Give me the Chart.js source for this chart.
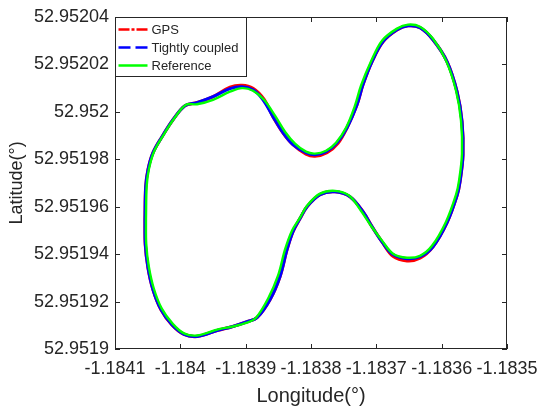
<!DOCTYPE html>
<html>
<head>
<meta charset="utf-8">
<script src="https://cdn.jsdelivr.net/npm/chart.js@4.4.1/dist/chart.umd.min.js"></script>
<style>
  html, body { margin: 0; padding: 0; background: #fff; }
</style>
</head>
<body>
<canvas id="myChart" width="550" height="412"></canvas>
<script>
// one lap of each track (deg)
let gpsLon = [-1.1840541, -1.1840530, -1.1840495, -1.1840418, -1.1840281, -1.1840112, -1.1839929, -1.1839745, -1.1839500, -1.1839240, -1.1839056, -1.1838888, -1.1838720, -1.1838582, -1.1838429, -1.1838276, -1.1838077, -1.1837939, -1.1837755, -1.1837587, -1.1837449, -1.1837296, -1.1837204, -1.1837066, -1.1836898, -1.1836684, -1.1836515, -1.1836332, -1.1836133, -1.1835918, -1.1835765, -1.1835689, -1.1835674, -1.1835719, -1.1835765, -1.1835918, -1.1836133, -1.1836332, -1.1836531, -1.1836745, -1.1836913, -1.1837066, -1.1837204, -1.1837403, -1.1837633, -1.1837862, -1.1838061, -1.1838168, -1.1838276, -1.1838367, -1.1838475, -1.1838628, -1.1838827, -1.1838980, -1.1839209, -1.1839424, -1.1839745, -1.1839944, -1.1840128, -1.1840296, -1.1840418, -1.1840495, -1.1840536, -1.1840541]
let gpsLat = [52.9519545, 52.9519684, 52.9519756, 52.9519828, 52.9519895, 52.9519967, 52.9520026, 52.9520039, 52.9520064, 52.9520104, 52.9520112, 52.9520099, 52.9520053, 52.9519980, 52.9519912, 52.9519862, 52.9519822, 52.9519813, 52.9519828, 52.9519868, 52.9519933, 52.9520030, 52.9520115, 52.9520212, 52.9520296, 52.9520346, 52.9520363, 52.9520355, 52.9520304, 52.9520212, 52.9520085, 52.9519959, 52.9519819, 52.9519706, 52.9519647, 52.9519533, 52.9519431, 52.9519383, 52.9519372, 52.9519391, 52.9519452, 52.9519516, 52.9519579, 52.9519642, 52.9519663, 52.9519651, 52.9519600, 52.9519550, 52.9519495, 52.9519419, 52.9519305, 52.9519208, 52.9519132, 52.9519115, 52.9519094, 52.9519079, 52.9519053, 52.9519062, 52.9519102, 52.9519166, 52.9519250, 52.9519343, 52.9519440, 52.9519545]

let tcLon = [-1.1840541, -1.1840530, -1.1840495, -1.1840418, -1.1840281, -1.1840112, -1.1839929, -1.1839745, -1.1839500, -1.1839240, -1.1839056, -1.1838888, -1.1838735, -1.1838582, -1.1838429, -1.1838276, -1.1838077, -1.1837939, -1.1837770, -1.1837602, -1.1837449, -1.1837296, -1.1837204, -1.1837066, -1.1836898, -1.1836684, -1.1836515, -1.1836332, -1.1836133, -1.1835918, -1.1835765, -1.1835689, -1.1835674, -1.1835719, -1.1835765, -1.1835918, -1.1836133, -1.1836332, -1.1836531, -1.1836745, -1.1836913, -1.1837066, -1.1837204, -1.1837403, -1.1837633, -1.1837862, -1.1838061, -1.1838168, -1.1838276, -1.1838367, -1.1838475, -1.1838628, -1.1838827, -1.1838980, -1.1839209, -1.1839424, -1.1839745, -1.1839944, -1.1840128, -1.1840296, -1.1840418, -1.1840495, -1.1840536, -1.1840541]
let tcLat = [52.9519545, 52.9519684, 52.9519756, 52.9519828, 52.9519895, 52.9519967, 52.9520026, 52.9520039, 52.9520064, 52.9520098, 52.9520106, 52.9520093, 52.9520051, 52.9519980, 52.9519912, 52.9519862, 52.9519828, 52.9519819, 52.9519832, 52.9519870, 52.9519933, 52.9520030, 52.9520115, 52.9520212, 52.9520296, 52.9520346, 52.9520363, 52.9520355, 52.9520304, 52.9520212, 52.9520085, 52.9519959, 52.9519819, 52.9519706, 52.9519647, 52.9519533, 52.9519431, 52.9519389, 52.9519381, 52.9519398, 52.9519452, 52.9519516, 52.9519579, 52.9519642, 52.9519663, 52.9519651, 52.9519600, 52.9519550, 52.9519495, 52.9519419, 52.9519305, 52.9519208, 52.9519132, 52.9519115, 52.9519094, 52.9519079, 52.9519053, 52.9519062, 52.9519102, 52.9519166, 52.9519250, 52.9519343, 52.9519440, 52.9519545]

let refLon = [-1.1840526, -1.1840515, -1.1840480, -1.1840403, -1.1840266, -1.1840097, -1.1839914, -1.1839745, -1.1839500, -1.1839240, -1.1839056, -1.1838888, -1.1838720, -1.1838551, -1.1838398, -1.1838245, -1.1838077, -1.1837939, -1.1837770, -1.1837617, -1.1837464, -1.1837327, -1.1837235, -1.1837082, -1.1836913, -1.1836684, -1.1836515, -1.1836332, -1.1836133, -1.1835933, -1.1835780, -1.1835704, -1.1835689, -1.1835734, -1.1835780, -1.1835933, -1.1836148, -1.1836332, -1.1836531, -1.1836745, -1.1836913, -1.1837082, -1.1837235, -1.1837418, -1.1837633, -1.1837862, -1.1838061, -1.1838168, -1.1838291, -1.1838398, -1.1838505, -1.1838658, -1.1838842, -1.1838980, -1.1839209, -1.1839424, -1.1839745, -1.1839944, -1.1840116, -1.1840284, -1.1840405, -1.1840482, -1.1840522, -1.1840526]
let refLat = [52.9519549, 52.9519688, 52.9519760, 52.9519832, 52.9519899, 52.9519971, 52.9520030, 52.9520032, 52.9520051, 52.9520085, 52.9520100, 52.9520089, 52.9520051, 52.9519984, 52.9519916, 52.9519866, 52.9519832, 52.9519824, 52.9519836, 52.9519870, 52.9519933, 52.9520026, 52.9520110, 52.9520212, 52.9520300, 52.9520351, 52.9520368, 52.9520359, 52.9520308, 52.9520216, 52.9520089, 52.9519963, 52.9519823, 52.9519710, 52.9519651, 52.9519537, 52.9519435, 52.9519393, 52.9519385, 52.9519402, 52.9519457, 52.9519520, 52.9519583, 52.9519647, 52.9519667, 52.9519655, 52.9519604, 52.9519554, 52.9519499, 52.9519419, 52.9519309, 52.9519212, 52.9519132, 52.9519111, 52.9519094, 52.9519083, 52.9519057, 52.9519066, 52.9519106, 52.9519170, 52.9519254, 52.9519347, 52.9519444, 52.9519549]

let lonTicks = [-1.1841, -1.184, -1.1839, -1.1838, -1.1837, -1.1836, -1.1835]
let latTicks = [52.9519, 52.95192, 52.95194, 52.95196, 52.95198, 52.952, 52.95202, 52.95204]

let seriesNames = ['GPS', 'Tightly coupled', 'Reference']
let seriesColors = ['#ff0000', '#0000ff', '#00ff00']
let legendDash = [[11, 2, 3, 2], [12, 5], []]

const FONT = "'Liberation Sans', Arial, sans-serif"
const INK = '#262626'

Chart.defaults.font.family = FONT
Chart.defaults.color = INK

const toPoints = (lon, lat) => lon.map((v, i) => ({x: v, y: lat[i]}))

// matlab style box: frame, inward ticks, legend in the top-left corner
const boxPlugin = {
    id: 'matlabBox',
    afterDatasetsDraw(chart) {
        const {ctx, chartArea: a} = chart
        const sx = chart.scales.x, sy = chart.scales.y
        ctx.save()
        ctx.strokeStyle = INK
        ctx.lineWidth = 1
        ctx.setLineDash([])
        ctx.strokeRect(a.left + 0.5, a.top + 0.5, a.right - a.left - 1, a.bottom - a.top - 1)
        const tl = 5
        ctx.beginPath()
        lonTicks.forEach(v => {
            const px = Math.round(sx.getPixelForValue(v)) + 0.5
            ctx.moveTo(px, a.bottom); ctx.lineTo(px, a.bottom - tl)
            ctx.moveTo(px, a.top); ctx.lineTo(px, a.top + tl)
        })
        latTicks.forEach(v => {
            const py = Math.round(sy.getPixelForValue(v)) + 0.5
            ctx.moveTo(a.left, py); ctx.lineTo(a.left + tl, py)
            ctx.moveTo(a.right, py); ctx.lineTo(a.right - tl, py)
        })
        ctx.stroke()

        // legend
        const lx = a.left + 0.5, ly = a.top + 0.5, lw = 131, lh = 59
        ctx.fillStyle = '#fff'
        ctx.fillRect(lx, ly, lw, lh)
        ctx.strokeRect(lx, ly, lw, lh)
        ctx.font = '13px ' + FONT
        ctx.textBaseline = 'middle'
        ctx.textAlign = 'left'
        seriesNames.forEach((name, i) => {
            const y = ly + 12 + i * 18
            ctx.strokeStyle = seriesColors[i]
            ctx.lineWidth = 2.5
            ctx.setLineDash(legendDash[i])
            ctx.beginPath()
            ctx.moveTo(lx + 3, y); ctx.lineTo(lx + 32, y)
            ctx.stroke()
            ctx.fillStyle = INK
            ctx.fillText(name, lx + 36, y + 1)
        })
        ctx.restore()
    }
}

let ctx = document.getElementById('myChart').getContext('2d')

let myChart = new Chart(ctx, {
    type: 'scatter',
    data: {
        datasets: [
            {label: seriesNames[0], data: toPoints(gpsLon, gpsLat), borderColor: seriesColors[0], borderWidth: 3.2, order: 3},
            {label: seriesNames[1], data: toPoints(tcLon, tcLat), borderColor: seriesColors[1], borderWidth: 3, order: 2},
            {label: seriesNames[2], data: toPoints(refLon, refLat), borderColor: seriesColors[2], borderWidth: 2.4, order: 1}
        ].map(d => Object.assign(d, {showLine: true, pointRadius: 0, tension: 0.35, fill: false}))
    },
    options: {
        responsive: false,
        animation: false,
        devicePixelRatio: 1,
        layout: {padding: {top: 17, right: 43, left: 0, bottom: 0}},
        plugins: {legend: {display: false}, tooltip: {enabled: false}},
        scales: {
            x: {
                type: 'linear',
                min: -1.1841, max: -1.1835,
                afterBuildTicks: s => { s.ticks = lonTicks.map(v => ({value: v})) },
                afterFit: s => { s.height = 63 },
                grid: {display: false, drawTicks: false},
                border: {display: false},
                ticks: {
                    autoSkip: false, maxRotation: 0, minRotation: 0, padding: 9,
                    font: {size: 18}, color: INK,
                    callback: v => String(Number(v.toFixed(4)))
                },
                title: {display: true, text: 'Longitude(°)', font: {size: 20}, color: INK, padding: {top: 0, bottom: 4}}
            },
            y: {
                type: 'linear',
                min: 52.9519, max: 52.95204,
                afterBuildTicks: s => { s.ticks = latTicks.map(v => ({value: v})) },
                afterFit: s => { s.width = 115 },
                grid: {display: false, drawTicks: false},
                border: {display: false},
                ticks: {
                    autoSkip: false, padding: 6,
                    font: {size: 18}, color: INK,
                    callback: v => String(Number(v.toFixed(5)))
                },
                title: {display: true, text: 'Latitude(°)', font: {size: 18}, color: INK, padding: {top: 6, bottom: 0}}
            }
        }
    },
    plugins: [boxPlugin]
})
</script>
</body>
</html>
